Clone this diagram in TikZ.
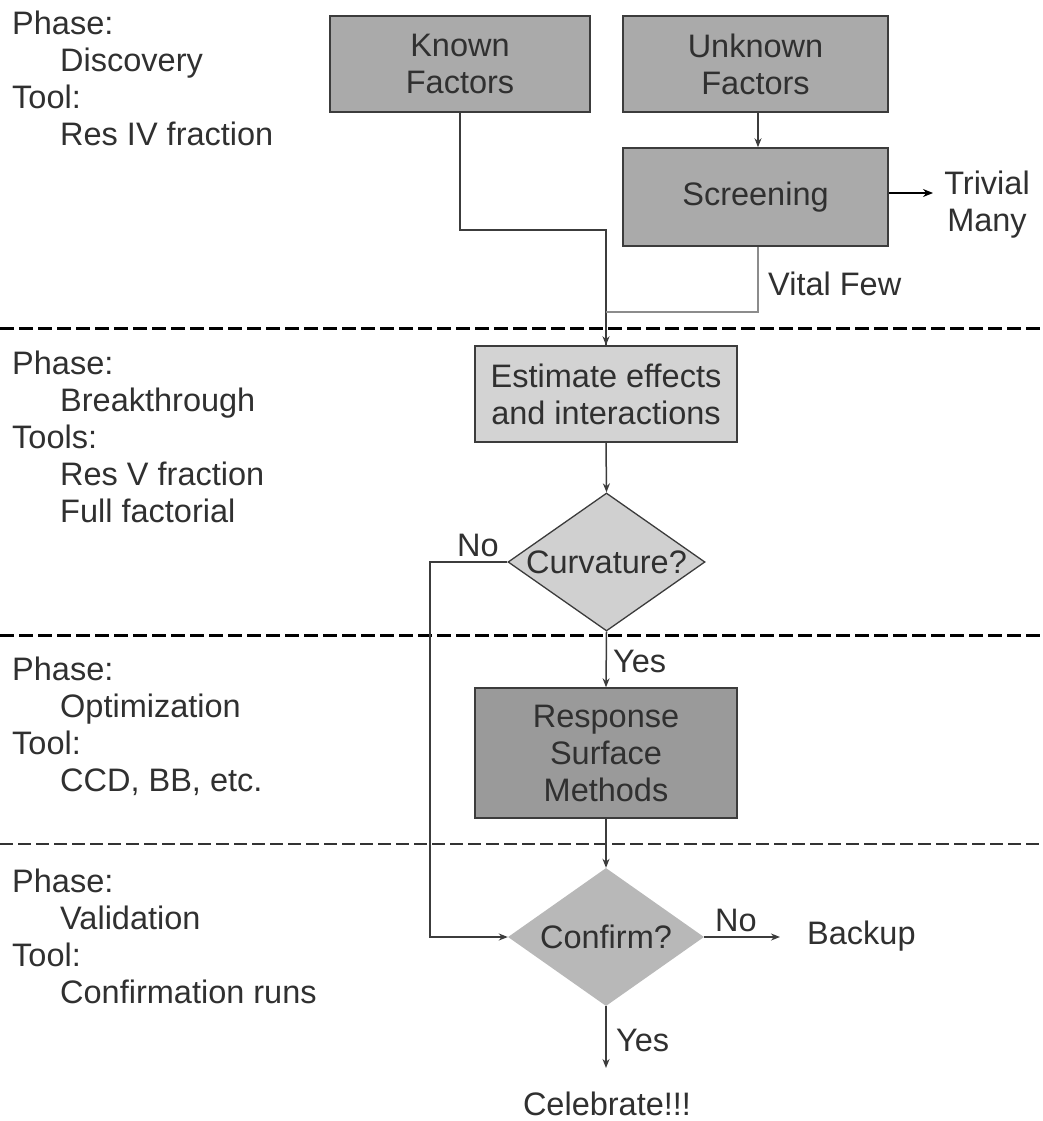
\documentclass[tikz,border=0pt]{standalone}
\usepackage{fontspec}
\setmainfont{Liberation Sans}
\usetikzlibrary{shapes.geometric,arrows.meta}
\definecolor{txt}{HTML}{303030}
\definecolor{edge}{HTML}{3C3C3C}
\definecolor{boxA}{HTML}{AAAAAA}
\definecolor{boxB}{HTML}{D3D3D3}
\definecolor{boxC}{HTML}{9A9A9A}
\definecolor{diaA}{HTML}{D0D0D0}
\definecolor{diaB}{HTML}{B8B8B8}
\tikzset{
  lbl/.style={font=\fontsize{32.5}{37}\selectfont, text=txt, inner sep=0pt},
  box/.style={lbl, draw=edge, line width=1.5pt, align=center, minimum width=262pt},
  dia/.style={diamond, inner sep=0pt},
  conn/.style={draw=edge, line width=1.5pt, -{Stealth[length=9pt,width=7pt]}},
  plain/.style={draw=edge, line width=1.5pt},
  sep/.style={draw=black, line width=3pt, dash pattern=on 14pt off 5pt},
  septhin/.style={draw=black!80, line width=1.4pt, dash pattern=on 13pt off 5pt},
  side/.style={lbl, align=left, anchor=north west}
}
\begin{document}
\begin{tikzpicture}[x=1pt,y=-1pt]
\useasboundingbox (0,0) rectangle (1042,1121);
% separators
\draw[sep] (0,328) -- (1042,328);
\draw[sep] (0,635) -- (1042,635);
\draw[septhin] (0,844) -- (1042,844);

% side texts
\node[side] (s1) at (12,11) {Phase:\\\hspace*{48pt}Discovery\\Tool:\\\hspace*{48pt}Res IV fraction};
\node[side] (s2) at (12,351) {Phase:\\\hspace*{48pt}Breakthrough\\Tools:\\\hspace*{48pt}Res V fraction\\\hspace*{48pt}Full factorial};
\node[side] (s3) at (12,657) {Phase:\\\hspace*{48pt}Optimization\\Tool:\\\hspace*{48pt}CCD, BB, etc.};
\node[side] (s4) at (12,869) {Phase:\\\hspace*{48pt}Validation\\Tool:\\\hspace*{48pt}Confirmation runs};

% boxes
\node[box, fill=boxA, minimum width=260pt, minimum height=96pt] (known) at (460,64) {Known\\Factors};
\node[box, fill=boxA, minimum width=265pt, minimum height=96pt] (unknown) at (755.5,64) {Unknown\\Factors};
\node[box, fill=boxA, minimum width=265pt, minimum height=98pt] (screen) at (755.5,197) {Screening};
\node[box, fill=boxB, minimum width=262pt, minimum height=96pt] (est) at (606,394) {Estimate effects\\and interactions};
\node[box, fill=boxC, minimum width=262pt, minimum height=130pt] (rsm) at (606,753) {Response\\Surface\\Methods};

% diamonds
\node[dia, fill=diaA, draw=edge, line width=1.3pt, minimum width=197pt, minimum height=138pt] (curv) at (606.5,562) {};
\node[lbl] at (curv.center) {Curvature?};
\node[dia, fill=diaB, minimum width=196pt, minimum height=138pt] (conf) at (606,937) {};
\node[lbl] at (conf.center) {Confirm?};

% free texts
\node[lbl, align=center] (trivial) at (987,205) {Trivial\\Many};
\node[lbl, anchor=west] (vital) at (768,284) {Vital Few};
\node[lbl] (no1) at (478,545) {No};
\node[lbl, anchor=west] (yes1) at (613,661) {Yes};
\node[lbl] (no2) at (736,920) {No};
\node[lbl, anchor=west] (backup) at (807,936) {Backup};
\node[lbl, anchor=west] (yes2) at (616,1040) {Yes};
\node[lbl] (celeb) at (607,1104) {Celebrate!!!};

\coordinate (kdown) at (460,230);
\coordinate (kright) at (606,230);
\coordinate (vdown) at (758,312);
\coordinate (vleft) at (606,312);
\coordinate (ltop) at (430,562);
\coordinate (lbot) at (430,937);
\coordinate (triv) at (933,193);
\coordinate (back) at (780,937);
\coordinate (cel) at (606,1068);

% connectors
\draw[conn, line width=1.3pt] (unknown.south -| 758,0) -- (screen.north -| 758,0);
\draw[plain] (known.south) -- (kdown) -- (kright) -- (est.north -| kright);
\draw[conn] (kright) -- (est.north);
\draw[draw=black!45, line width=1.5pt] (screen.south -| vdown) -- (vdown) -- (vleft);
\draw[draw=black, line width=2.6pt, -{Stealth[length=10pt,width=8pt]}] (screen.east |- triv) -- (triv);
\draw[conn] (est.south) -- (curv.north);
\draw[conn] (curv.south) -- (rsm.north);
\draw[conn] (rsm.south) -- (conf.north);
\draw[conn] (curv.west) -- (ltop) -- (lbot) -- (conf.west);
\draw[conn] (conf.east) -- (back);
\draw[conn] (conf.south) -- (cel);
\end{tikzpicture}
\end{document}
